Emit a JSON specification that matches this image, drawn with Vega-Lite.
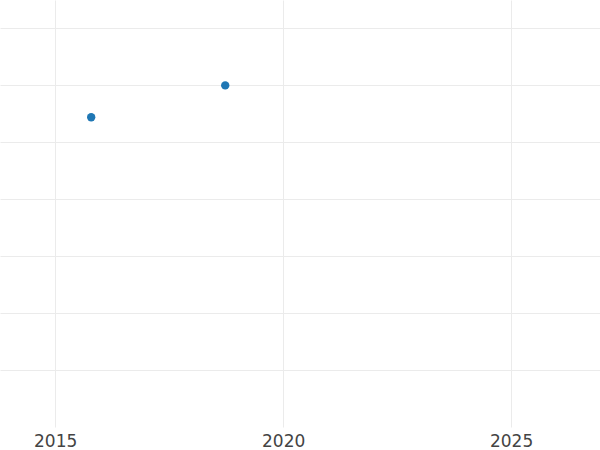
{
  "$schema": "https://vega.github.io/schema/vega-lite/v6.json",
  "width": 600,
  "height": 427,
  "autosize": {"type": "none"},
  "padding": {"top": 0, "left": 0, "right": 0, "bottom": 23},
  "background": "white",
  "config": {"view": {"stroke": null}},
  "data": {"values": [
    {"year": 2015.79, "value": 5.44},
    {"year": 2018.73, "value": 6.0}
  ]},
  "mark": {"type": "point", "filled": true, "size": 70, "color": "#1f77b4", "opacity": 1},
  "encoding": {
    "x": {"field": "year", "type": "quantitative",
      "scale": {"domain": [2013.79, 2026.95], "nice": false, "zero": false},
      "axis": {"values": [2015, 2020, 2025], "format": "d", "title": null, "domain": false, "ticks": false,
        "labelPadding": 6, "labelFontSize": 17, "labelFont": "DejaVu Sans", "labelColor": "#444",
        "gridColor": "#ebebeb", "gridWidth": 1, "labelFlush": false}},
    "y": {"field": "value", "type": "quantitative",
      "scale": {"domain": [0, 7.5], "nice": false, "zero": false},
      "axis": {"values": [1, 2, 3, 4, 5, 6, 7], "labels": false, "ticks": false, "domain": false, "title": null,
        "gridColor": "#ebebeb", "gridWidth": 1}}
  }
}
